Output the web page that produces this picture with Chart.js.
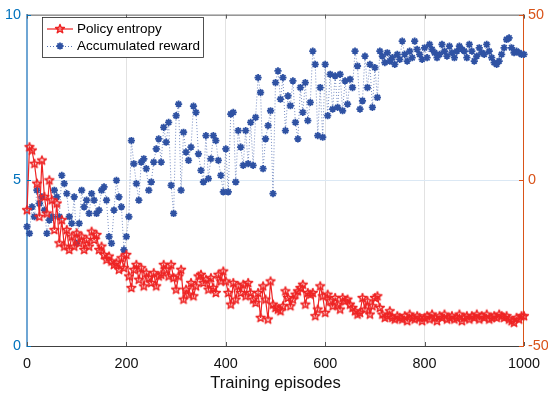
<!DOCTYPE html>
<html><head><meta charset="utf-8">
<script src="https://cdn.jsdelivr.net/npm/chart.js@4.4.1/dist/chart.umd.min.js"></script>
<style>html,body{margin:0;padding:0;background:#fff;}canvas{display:block;}</style>
</head><body>
<canvas id="c" width="549" height="397"></canvas>
<script>
const episodeStep = 5;
const seriesNames = ['Policy entropy', 'Accumulated reward'];
const xTitle = 'Training episodes';
const xTicks = [0, 200, 400, 600, 800, 1000];
const leftTicks = [0, 5, 10];
const rightTicks = [-50, 0, 50];

const policyEntropy = [
  4.1, 6.0, 5.9, 5.5, 4.9, 3.9, 5.6, 4.5, 4.0, 5.0,
  4.4, 3.5, 4.3, 3.1, 3.8, 3.0, 3.5, 2.9, 3.3, 3.0,
  3.4, 3.1, 3.3, 2.9, 3.2, 3.0, 3.45, 3.2, 3.35, 2.9,
  3.0, 2.75, 2.6, 2.7, 2.55, 2.45, 2.5, 2.3, 2.65, 2.35,
  2.75, 2.1, 1.75, 2.3, 2.45, 2.0, 2.35, 1.8, 2.2, 2.05,
  1.9, 2.2, 1.8, 2.1, 2.15, 2.45, 2.3, 2.1, 2.45, 2.05,
  1.7, 2.1, 2.3, 1.4, 1.7, 1.55, 1.9, 1.5, 1.8, 2.1,
  2.15, 1.9, 2.0, 1.7, 2.05, 1.75, 1.6, 2.15, 1.95, 2.25,
  1.95, 1.6, 1.25, 1.9, 1.4, 1.8, 1.6, 1.85, 1.5, 1.9,
  1.6, 1.4, 1.3, 1.6, 0.85, 1.8, 1.4, 0.8, 1.95, 1.25,
  1.15, 1.1, 1.05, 1.2, 1.65, 1.45, 1.2, 1.4, 1.55, 1.65,
  1.75, 1.85, 1.25, 1.6, 1.55, 1.6, 0.9, 1.1, 1.8, 1.5,
  1.0, 1.55, 1.35, 1.2, 1.45, 1.25, 1.1, 1.45, 1.35, 1.4,
  1.25, 1.15, 1.05, 0.95, 1.0, 1.45, 1.1, 1.35, 0.95, 1.2,
  1.45, 1.5, 1.15, 0.95, 0.85, 0.9, 1.05, 0.85, 0.8, 0.9,
  0.85, 0.8, 0.9, 0.75, 0.95, 0.85, 0.8, 0.9, 0.85, 0.75,
  0.85, 0.9, 0.8, 0.95, 0.85, 0.75, 0.9, 0.85, 0.95, 0.8,
  0.85, 0.9, 0.8, 0.85, 0.95, 0.75, 0.85, 0.9, 0.8, 0.9,
  0.85, 0.95, 0.8, 0.9, 0.85, 0.95, 0.8, 0.85, 0.9, 0.85,
  0.95, 0.9, 0.85, 0.9, 0.8, 0.75, 0.7, 0.85, 0.8, 0.9,
  0.9
];

const accumulatedReward = [
  -14, -16, -8, -11, -3, -7, -5, -9, -16, -12,
  -11, -3, -5, -11, 1.5, -1, -4, -11, -13, -5,
  -19, -13, -3, -8, -6, -10, -4, -6, -10, -9,
  -3, -2, -6, -17, -19, -9, 0, -5, -8, -21,
  -17, -11, 12, 5, -1, -6, 5.5, 6.5, 3.5, -3,
  -0.5, 5.5, 9.5, 12.5, 5.5, 16, 11.5, 17.5, -1.5, -10,
  19.5, 23, -3, 14.5, 8.5, 6, 10, 22.4, 20.5, 8,
  3, -0.5, 13.5, 0.5, 6.5, 13.5, 12, 6, 1.5, -3.5,
  9.5, -3.5, 20, 20.5, -0.5, 15, 10, 4.5, 15, 5,
  17.5, 4.5, 19, 31, 26.5, 3.5, 12.5, 16.5, 21, -4,
  29.5, 33, 24.5, 31, 15, 25.5, 22.5, 30, 17.5, 12.5,
  28, 20.5, 29.5, 18, 23.5, 39, 35, 13.5, 28, 13,
  35, 19.5, 32, 21.5, 31.5, 22, 32, 21, 30, 23,
  30.5, 28, 39, 34.5, 21.5, 24, 37.5, 28, 35, 22,
  34, 25, 39, 37.5, 35.5, 38.5, 36, 37, 35, 38,
  36.5, 42, 38, 36, 39, 37, 42, 39.5, 38, 36.5,
  40, 37, 41, 39.5, 38.5, 37, 38, 41, 39, 37.5,
  40.5, 38.5, 37, 39, 40.5, 39.5, 39, 37, 41, 39,
  36, 37.5, 40, 38.5, 38, 41, 39, 37, 35.5, 35,
  36, 38, 40, 42.5, 43, 40, 38.5, 39, 38.5, 38,
  38
];

const LEFT_COLOR = '#0072BD';
const RIGHT_COLOR = '#D95319';
const RED = '#ee2424';
const BLUE = '#2f52a3';
const FONT = "'Liberation Sans', Arial, Helvetica, sans-serif";

function makePentagram(r, color) {
  const s = Math.ceil(r * 2 + 4);
  const cv = document.createElement('canvas');
  cv.width = s; cv.height = s;
  const g = cv.getContext('2d');
  g.beginPath();
  for (let i = 0; i < 10; i++) {
    const rad = i % 2 === 0 ? r : r * 0.42;
    const a = -Math.PI / 2 + i * Math.PI / 5;
    const px = s / 2 + rad * Math.cos(a), py = s / 2 + rad * Math.sin(a);
    if (i) g.lineTo(px, py); else g.moveTo(px, py);
  }
  g.closePath();
  g.strokeStyle = color; g.lineWidth = 1.5; g.lineJoin = 'round'; g.stroke();
  return cv;
}
const starImg = makePentagram(4.6, RED);

const entropyPts = policyEntropy.map((v, i) => ({ x: i * episodeStep, y: v }));
const rewardPts = accumulatedReward.map((v, i) => ({ x: i * episodeStep, y: v }));

const decorPlugin = {
  id: 'decor',
  afterDraw(chart) {
    const ctx = chart.ctx;
    const a = chart.chartArea;
    const xs = chart.scales.x, yl = chart.scales.y, yr = chart.scales.y2;
    ctx.save();
    ctx.strokeStyle = '#5a5a5a'; ctx.lineWidth = 1;
    ctx.beginPath(); ctx.moveTo(a.left, a.top + 0.5); ctx.lineTo(a.right, a.top + 0.5); ctx.stroke();
    xTicks.forEach(v => {
      const px = Math.round(xs.getPixelForValue(v)) + 0.5;
      ctx.strokeStyle = '#5a5a5a';
      ctx.beginPath(); ctx.moveTo(px, a.top); ctx.lineTo(px, a.top + 4); ctx.stroke();
      ctx.beginPath(); ctx.moveTo(px, a.bottom); ctx.lineTo(px, a.bottom - 4); ctx.stroke();
    });
    leftTicks.forEach(v => {
      const py = Math.round(yl.getPixelForValue(v)) + 0.5;
      ctx.strokeStyle = LEFT_COLOR;
      ctx.beginPath(); ctx.moveTo(a.left, py); ctx.lineTo(a.left + 4, py); ctx.stroke();
    });
    rightTicks.forEach(v => {
      const py = Math.round(yr.getPixelForValue(v)) + 0.5;
      ctx.strokeStyle = RIGHT_COLOR;
      ctx.beginPath(); ctx.moveTo(a.right, py); ctx.lineTo(a.right - 5, py); ctx.stroke();
    });
    const bx = 42.5, by = 17.5, bw = 161, bh = 40;
    ctx.fillStyle = '#fff'; ctx.fillRect(bx, by, bw, bh);
    ctx.strokeStyle = '#262626'; ctx.lineWidth = 0.8; ctx.strokeRect(bx, by, bw, bh);
    const rows = [29, 46];
    ctx.strokeStyle = RED; ctx.lineWidth = 1.2; ctx.setLineDash([]);
    ctx.beginPath(); ctx.moveTo(47, rows[0]); ctx.lineTo(73, rows[0]); ctx.stroke();
    ctx.drawImage(starImg, 60 - starImg.width / 2, rows[0] - starImg.height / 2);
    ctx.strokeStyle = 'rgba(47,82,163,0.8)'; ctx.lineWidth = 1; ctx.setLineDash([1, 2]);
    ctx.beginPath(); ctx.moveTo(47, rows[1] + 0.5); ctx.lineTo(73, rows[1] + 0.5); ctx.stroke();
    ctx.setLineDash([]);
    ctx.strokeStyle = BLUE; ctx.lineWidth = 1.8;
    Chart.helpers.drawPoint(ctx, { pointStyle: 'star', radius: 3.6, borderWidth: 1.8 }, 60, rows[1]);
    ctx.fillStyle = '#000'; ctx.font = '13.5px ' + FONT; ctx.textBaseline = 'middle'; ctx.textAlign = 'left';
    ctx.fillText(seriesNames[0], 77, rows[0]);
    ctx.fillText(seriesNames[1], 77, rows[1]);
    ctx.restore();
  }
};

new Chart(document.getElementById('c'), {
  type: 'line',
  data: {
    datasets: [
      {
        label: seriesNames[0], data: entropyPts, yAxisID: 'y',
        borderColor: RED, borderWidth: 1.2, backgroundColor: RED,
        pointStyle: starImg, pointRadius: 4.6, tension: 0, clip: false, order: 1
      },
      {
        label: seriesNames[1], data: rewardPts, yAxisID: 'y2',
        borderColor: 'rgba(47,82,163,0.65)', borderWidth: 1, borderDash: [1, 2],
        pointStyle: 'star', pointRadius: 3.6, pointBorderWidth: 1.8,
        pointBorderColor: BLUE, pointBackgroundColor: BLUE, tension: 0, clip: false, order: 2
      }
    ]
  },
  options: {
    responsive: false, animation: false, devicePixelRatio: 1,
    layout: { padding: { top: 11, left: 0, right: 0, bottom: 0 } },
    plugins: { legend: { display: false }, tooltip: { enabled: false } },
    scales: {
      x: {
        type: 'linear', min: 0, max: 1000,
        afterBuildTicks: s => { s.ticks = xTicks.map(v => ({ value: v })); },
        afterFit: s => { s.height = 51; },
        ticks: { color: '#111', font: { family: FONT, size: 14.4 }, padding: 9, callback: v => String(v), maxRotation: 0 },
        grid: { color: c => (c.tick && (c.tick.value === 0 || c.tick.value === 1000)) ? 'rgba(0,0,0,0)' : '#e2e2e2', drawTicks: false, lineWidth: 1 },
        border: { color: '#404040', width: 1 },
        title: { display: true, text: xTitle, color: '#111', font: { family: FONT, size: 16.6 }, padding: { top: 0, bottom: 4 } }
      },
      y: {
        position: 'left', min: 0, max: 10,
        afterBuildTicks: s => { s.ticks = leftTicks.map(v => ({ value: v })); },
        afterFit: s => { s.width = 27; },
        ticks: { color: LEFT_COLOR, font: { family: FONT, size: 14.4 }, padding: 6 },
        grid: { color: c => (c.tick && c.tick.value === 5) ? '#dbe8f4' : 'rgba(0,0,0,0)', drawTicks: false },
        border: { color: '#6fa6d4', width: 2 }
      },
      y2: {
        position: 'right', min: -50, max: 50,
        afterBuildTicks: s => { s.ticks = rightTicks.map(v => ({ value: v })); },
        afterFit: s => { s.width = 24; },
        ticks: { color: RIGHT_COLOR, font: { family: FONT, size: 14.4 }, padding: 4 },
        grid: { display: false, drawTicks: false },
        border: { color: RIGHT_COLOR, width: 1 }
      }
    }
  },
  plugins: [decorPlugin]
});
</script>
</body></html>
